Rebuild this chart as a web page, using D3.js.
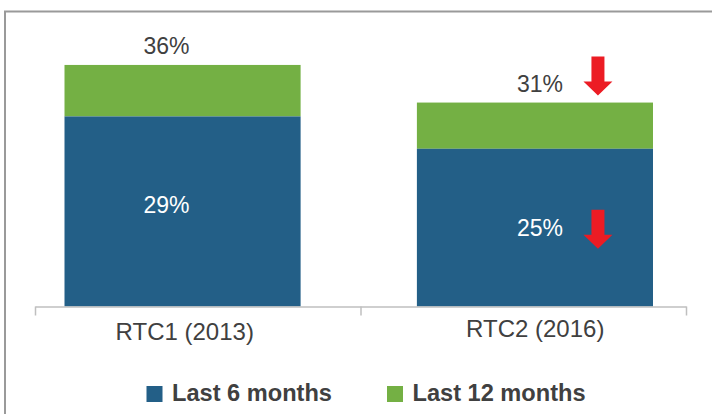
<!DOCTYPE html>
<html>
<head>
<meta charset="utf-8">
<script src="https://cdn.jsdelivr.net/npm/d3@7"></script>
<style>
  html, body { margin: 0; padding: 0; background: #fff; }
  svg { display: block; font-family: "Liberation Sans", Arial, sans-serif; }
</style>
</head>
<body>
<div id="chart"></div>
<script>
// data
const categories = ['RTC1 (2013)', 'RTC2 (2016)'];
const seriesNames = ['Last 6 months', 'Last 12 months'];
const last6 = [28.8, 23.9];          // height of blue bar
const last12 = [36.6, 30.9];         // total height (stacked top)
const last6Labels = ['29%', '25%'];
const last12Labels = ['36%', '31%'];
const showArrow = [false, true];

const colors = { blue: '#235f87', green: '#74b044', text: '#404040', axis: '#bfbfbf' };

const W = 712, H = 414;
const svg = d3.select('#chart').append('svg')
    .attr('width', W)
    .attr('height', H);

// frame (only top + left visible in crop)
svg.append('path')
    .attr('d', `M5,${H} V11.5 H${W}`)
    .attr('fill', 'none')
    .attr('stroke', '#9a9a9a')
    .attr('stroke-width', 2);

const y = d3.scaleLinear().domain([0, 40]).range([306.5, 42.5]);

// bars
const xBar = d3.scaleBand().domain(categories).range([64.5, 653]).paddingInner(0.33);
// axis (category boundaries)
const xAxisScale = d3.scaleLinear().domain([0, categories.length]).range([35, 686]);
const xLabel = d3.scaleBand().domain(categories).range([35, 686]);

const rows = categories.map((c, i) => ({
    cat: c, i,
    v6: last6[i], v12: last12[i],
    l6: last6Labels[i], l12: last12Labels[i],
    arrow: showArrow[i]
}));

const g = svg.append('g');

g.selectAll('.bar12')
    .data(rows)
    .enter()
    .append('rect')
    .attr('class', 'bar12')
    .attr('x', d => xBar(d.cat))
    .attr('y', d => y(d.v12))
    .attr('width', xBar.bandwidth())
    .attr('height', d => y(d.v6) - y(d.v12))
    .attr('fill', colors.green);

g.selectAll('.bar6')
    .data(rows)
    .enter()
    .append('rect')
    .attr('class', 'bar6')
    .attr('x', d => xBar(d.cat))
    .attr('y', d => y(d.v6))
    .attr('width', xBar.bandwidth())
    .attr('height', d => y(0) - y(d.v6))
    .attr('fill', colors.blue);

// axis
const axis = d3.axisBottom(xAxisScale)
    .tickValues(d3.range(categories.length + 1))
    .tickFormat('')
    .tickSize(9)
    .tickSizeOuter(0);

const ax = svg.append('g')
    .attr('transform', `translate(0,${y(0)})`)
    .call(axis);
ax.select('.domain').attr('stroke', colors.axis).attr('stroke-width', 1.5);
ax.selectAll('.tick line').attr('stroke', colors.axis).attr('stroke-width', 1.5);

// category labels
const catShift = [0, 25];
const catBase = [339.5, 336.5];
svg.selectAll('.cat')
    .data(rows)
    .enter()
    .append('text')
    .attr('class', 'cat')
    .attr('x', d => xLabel(d.cat) + xLabel.bandwidth() / 2 - 13 + catShift[d.i])
    .attr('y', d => catBase[d.i])
    .attr('text-anchor', 'middle')
    .attr('fill', colors.text)
    .style('font-size', '24px')
    .text(d => d.cat);

// value labels
const labelShift = [-16, 5];
g.selectAll('.lbl12')
    .data(rows)
    .enter()
    .append('text')
    .attr('class', 'lbl12')
    .attr('x', d => xBar(d.cat) + xBar.bandwidth() / 2 + labelShift[d.i])
    .attr('y', d => y(d.v12) - 11)
    .attr('text-anchor', 'middle')
    .attr('fill', colors.text)
    .style('font-size', '23px')
    .text(d => d.l12);

const lbl6Shift = [1.5, 8];
g.selectAll('.lbl6')
    .data(rows)
    .enter()
    .append('text')
    .attr('class', 'lbl6')
    .attr('x', d => xBar(d.cat) + xBar.bandwidth() / 2 + labelShift[d.i])
    .attr('y', d => (y(d.v6) + y(0)) / 2 + lbl6Shift[d.i])
    .attr('text-anchor', 'middle')
    .attr('fill', '#fff')
    .style('font-size', '23px')
    .text(d => d.l6);

// red down arrows
function arrowPath(cx, top, tip) {
    const sw = 6.5, hw = 14.5, headLen = 14;
    const hb = tip - headLen;
    return `M${cx - sw},${top} H${cx + sw} V${hb} H${cx + hw} L${cx},${tip} L${cx - hw},${hb} H${cx - sw} Z`;
}
const arrowRows = rows.filter(d => d.arrow);
const arrowX = d => xBar(d.cat) + xBar.bandwidth() / 2 + 63;
g.selectAll('.arr12')
    .data(arrowRows)
    .enter()
    .append('path')
    .attr('d', d => arrowPath(arrowX(d), y(d.v12) - 46, y(d.v12) - 7))
    .attr('fill', '#ec1c24');
g.selectAll('.arr6')
    .data(arrowRows)
    .enter()
    .append('path')
    .attr('d', d => {
        const mid = (y(d.v6) + y(0)) / 2;
        return arrowPath(arrowX(d), mid - 18, mid + 21);
    })
    .attr('fill', '#ec1c24');

// legend
const legend = svg.append('g');
const legendX = [146.5, 387];
const legendColors = [colors.blue, colors.green];
const li = legend.selectAll('.li')
    .data(seriesNames)
    .enter()
    .append('g')
    .attr('transform', (d, i) => `translate(${legendX[i]},386)`);
li.append('rect')
    .attr('width', 16)
    .attr('height', 16)
    .attr('fill', (d, i) => legendColors[i]);
li.append('text')
    .attr('x', 25.5)
    .attr('y', 15)
    .attr('fill', colors.text)
    .style('font-size', '23.6px')
    .style('font-weight', 'bold')
    .text(d => d);
</script>
</body>
</html>
